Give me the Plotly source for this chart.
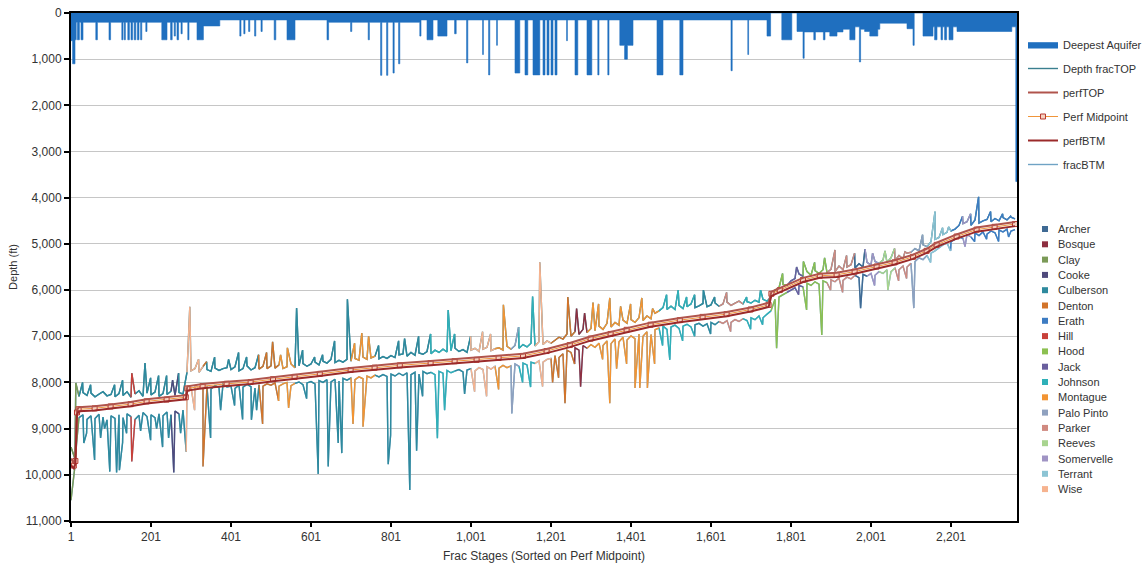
import plotly.graph_objects as go

# ---------------- data ----------------
frac_stage = list(range(1, 2362, 10))

frac_top = [
    9400, 9650, 8300, 8220, 8280, 8230, 8310, 8250, 8200, 8290,
    8260, 8310, 8240, 8280, 8200, 8320, 8250, 8180, 8300, 8230,
    8270, 8210, 8300, 8240, 8260, 8190, 8280, 8220, 8250, 7780,
    7750, 7700, 7780, 7650, 7720, 7760, 7690, 7740, 7700, 7680,
    7720, 7660, 7750, 7700, 7640, 7730, 7680, 7710, 7650, 7700,
    7640, 7690, 7620, 7700, 7660, 7600, 7680, 7640, 7590, 7650,
    7600, 7560, 7620, 7540, 7580, 7500, 7570, 7520, 7560, 7500,
    7540, 7480, 7520, 7450, 7500, 7470, 7430, 7490, 7440, 7480,
    7420, 7460, 7400, 7380, 7430, 7350, 7410, 7360, 7390, 7330,
    7380, 7300, 7350, 7280, 7340, 7310, 7260, 7330, 7290, 7350,
    7300, 7260, 7330, 7280, 7240, 7310, 7270, 7250, 7300, 7220,
    7280, 7200, 7260, 7180, 7230, 7150, 7210, 7120, 7180, 7100,
    7150, 7080, 7020, 7060, 6950, 7000, 6900, 6960, 6850, 6920,
    6830, 6880, 6780, 6850, 6720, 6800, 6700, 6760, 6650, 6720,
    6640, 6700, 6600, 6660, 6560, 6620, 6500, 6450, 6380, 6420,
    6350, 6420, 6330, 6400, 6360, 6300, 6380, 6340, 6290, 6360,
    6320, 6280, 6350, 6300, 6260, 6330, 6280, 6240, 6300, 6250,
    6280, 6220, 6260, 6200, 6240, 6150, 6000, 5950, 5880, 5900,
    5800, 5750, 5650, 5700, 5600, 5680, 5580, 5640, 5560, 5620,
    5550, 5600, 5480, 5560, 5500, 5450, 5520, 5430, 5500, 5400,
    5460, 5380, 5420, 5350, 5400, 5300, 5360, 5250, 5320, 5200,
    5180, 5100, 5150, 5020, 5060, 4950, 4900, 4860, 4800, 4750,
    4720, 4680, 4600, 4560, 4520, 4600, 4480, 4550, 4500, 4470,
    4520, 4450, 4500, 4430, 4480, 4420, 4460,
]

frac_btm = [
    10550, 9800, 8760, 8700, 8800, 8720, 8780, 8690, 8750, 8810,
    8720, 8780, 8700, 8760, 8680, 8740, 8800, 8710, 8650, 8740,
    8700, 8760, 8680, 8720, 8640, 8700, 8620, 8680, 8600, 8200,
    8100, 8060, 8120, 8050, 8090, 8140, 8070, 8110, 8040, 8100,
    8080, 8130, 8060, 8100, 8040, 8090, 8120, 8050, 8080, 8030,
    8060, 8010, 8080, 8030, 8000, 8070, 8020, 7990, 8050, 8010,
    7980, 8030, 7960, 8000, 7940, 7990, 7930, 7970, 7910, 7950,
    7900, 7940, 7880, 7920, 7860, 7900, 7840, 7880, 7830, 7870,
    7820, 7860, 7800, 7850, 7790, 7830, 7780, 7820, 7760, 7810,
    7780, 7830, 7760, 7800, 7740, 7790, 7750, 7720, 7770, 7730,
    7700, 7750, 7680, 7720, 7660, 7710, 7650, 7690, 7630, 7680,
    7640, 7600, 7650, 7580, 7620, 7560, 7590, 7530, 7560, 7500,
    7480, 7420, 7460, 7380, 7300, 7350, 7250, 7300, 7200, 7260,
    7180, 7240, 7150, 7200, 7100, 7160, 7060, 7120, 7020, 7080,
    6990, 7050, 6950, 7000, 6900, 6960, 6860, 6820, 6780, 6850,
    6800, 6760, 6830, 6780, 6740, 6800, 6750, 6720, 6780, 6730,
    6700, 6750, 6680, 6720, 6660, 6700, 6640, 6680, 6620, 6660,
    6600, 6640, 6560, 6600, 6520, 6450, 6200, 6150, 6100, 6050,
    6000, 5950, 5900, 5930, 5850, 5900, 5820, 5870, 5800, 5840,
    5780, 5820, 5740, 5790, 5720, 5760, 5680, 5730, 5660, 5700,
    5640, 5680, 5600, 5640, 5560, 5600, 5520, 5560, 5480, 5500,
    5420, 5380, 5300, 5340, 5250, 5200, 5150, 5080, 5020, 4980,
    4950, 4900, 4850, 4880, 4800, 4850, 4760, 4820, 4740, 4790,
    4720, 4760, 4700, 4740, 4680, 4720, 4690,
]

top_spike_stage = [13, 30, 50, 110, 130, 153, 186, 200, 220, 240, 255, 270, 298,
                   320, 340, 360, 395, 420, 440, 470, 490, 505, 525, 542, 565, 580,
                   610, 630, 660, 692, 710, 728, 745, 770, 820, 835, 870, 900, 944,
                   960, 1000, 1030, 1050, 1082, 1120, 1155, 1173, 1243, 1265, 1285,
                   1306, 1320, 1348, 1375, 1400, 1428, 1455, 1490, 1519, 1540, 1560,
                   1582, 1610, 1640, 1690, 1725, 1780, 1815, 1832, 1860, 1885, 1911,
                   1940, 1960, 1986, 2005, 2036, 2060, 2086, 2130, 2161, 2180, 2195,
                   2230, 2250, 2270, 2300, 2330, 2350]
top_spike_depth = [8010, 8000, 8050, 8050, 7950, 7800, 7580, 7900, 7850, 7850, 7950, 7800, 6360,
                   7500, 7550, 7450, 7500, 7350, 7450, 7400, 7350, 7120, 7400, 7250, 6390, 7300,
                   7450, 7400, 7100, 6200, 7150, 6930, 7000, 7200, 7100, 7050, 7000, 6950, 6430,
                   6950, 7000, 6900, 6950, 6320, 6800, 6140, 5400, 6150, 6400, 6500,
                   6270, 6300, 6170, 6350, 6300, 6170, 6400, 6100, 6000, 6150, 6100,
                   6000, 6150, 6050, 6150, 6000, 5640, 5500, 5380, 5400, 5300, 5130,
                   5250, 5200, 5110, 5200, 5150, 5100, 5170, 4800, 4300, 4650, 4630,
                   4400, 4350, 3980, 4300, 4350, 4400]

btm_spike_stage = [15, 33, 40, 60, 75, 85, 98, 115, 122, 130, 140, 153, 175, 200, 215,
                   230, 245, 258, 275, 289, 310, 331, 350, 375, 410, 430, 452, 465,
                   480, 520, 545, 590, 619, 644, 669, 678, 706, 731, 794, 800, 848,
                   865, 880, 917, 935, 985, 1010, 1040, 1070, 1103, 1130, 1150, 1180,
                   1205, 1220, 1236, 1260, 1275, 1330, 1348, 1365, 1390, 1411, 1423,
                   1442, 1460, 1480, 1498, 1530, 1560, 1600, 1650, 1700, 1730, 1765,
                   1820, 1840, 1878, 1900, 1930, 1975, 2010, 2043, 2070, 2090, 2108,
                   2150, 2200, 2236, 2260, 2290, 2320, 2345]
btm_spike_depth = [9310, 9310, 9100, 9680, 9200, 9000, 9930, 9950, 9900, 9300, 9100, 9710, 9050,
                   9250, 9000, 9400, 9200, 9950, 9100, 9500, 8600, 9820, 9200, 8600, 8500,
                   8800, 8810, 8600, 8900, 8400, 8550, 8350, 9980, 9820, 9310, 9530, 8900,
                   8960, 9770, 9140, 10330, 9480, 8300, 9210, 8600, 8250, 8200, 8300, 8150,
                   8670, 8000, 8100, 8090, 8000, 7900, 8450, 7600, 8090, 7500, 8450, 7700,
                   7600, 8120, 8120, 8120, 7600, 7200, 7510, 7100, 7000, 6950, 6900, 6850,
                   6750, 7260, 6100, 6430, 6970, 6000, 6050, 6390, 5900, 6000, 5800, 5750,
                   6390, 5400, 5150, 5060, 4950, 4900, 4950, 4850]

perf_stage = [1, 8, 12, 16, 20, 60, 100, 150, 190, 240, 288, 292, 330, 390, 450, 506,
              560, 623, 700, 760, 823, 900, 960, 1015, 1070, 1131, 1190, 1248, 1300,
              1350, 1390, 1450, 1523, 1580, 1640, 1700, 1745, 1752, 1773, 1831, 1873,
              1915, 1960, 2015, 2060, 2106, 2140, 2165, 2215, 2265, 2310, 2361]
perf_mid = [9720, 9800, 9700, 8650, 8580, 8560, 8520, 8470, 8410, 8370, 8320, 8130,
            8080, 8030, 7990, 7930, 7880, 7815, 7730, 7680, 7630, 7580, 7540, 7510,
            7470, 7425, 7320, 7190, 7050, 6950, 6860, 6750, 6650, 6580, 6520, 6420,
            6320, 6080, 6000, 5780, 5690, 5670, 5600, 5490, 5400, 5280, 5150, 5020,
            4840, 4690, 4630, 4570]
perf_top = [9650, 9740, 9640, 8600, 8535, 8515, 8475, 8425, 8365, 8325, 8275, 8085,
            8035, 7985, 7945, 7885, 7835, 7770, 7685, 7635, 7585, 7535, 7495, 7465,
            7425, 7380, 7275, 7145, 7005, 6905, 6815, 6705, 6605, 6535, 6475, 6375,
            6275, 6035, 5955, 5735, 5645, 5625, 5555, 5445, 5355, 5235, 5105, 4975,
            4795, 4645, 4585, 4525]
perf_btm = [9790, 9860, 9760, 8700, 8625, 8605, 8565, 8515, 8455, 8415, 8365, 8175,
            8125, 8075, 8035, 7975, 7925, 7860, 7775, 7725, 7675, 7625, 7585, 7555,
            7515, 7470, 7365, 7235, 7095, 6995, 6905, 6795, 6695, 6625, 6565, 6465,
            6365, 6125, 6045, 5825, 5735, 5715, 5645, 5535, 5445, 5325, 5195, 5065,
            4885, 4735, 4675, 4615]

aq_stage = [1, 5, 11, 14, 17, 22, 26, 31, 63, 67, 96, 100, 128, 131, 134, 137, 143, 147,
            151, 155, 159, 163, 167, 171, 175, 178, 188, 191, 228, 241, 250, 254, 259,
            262, 266, 270, 276, 279, 293, 296, 316, 332, 373, 423, 426, 433, 436, 445,
            448, 460, 463, 476, 479, 509, 513, 541, 561, 641, 645, 700, 703, 744, 747,
            775, 778, 790, 793, 806, 809, 820, 823, 873, 876, 891, 906, 918, 941, 960,
            964, 990, 993, 1030, 1032, 1045, 1048, 1065, 1067, 1111, 1123, 1136, 1143,
            1156, 1173, 1181, 1186, 1191, 1196, 1201, 1206, 1211, 1216, 1240, 1242,
            1261, 1268, 1291, 1303, 1318, 1321, 1343, 1346, 1373, 1385, 1392, 1406,
            1466, 1481, 1523, 1531, 1651, 1654, 1693, 1695, 1741, 1750, 1778, 1803,
            1816, 1831, 1834, 1858, 1862, 1882, 1886, 1898, 1916, 1931, 1948, 1961,
            1972, 1975, 1985, 1998, 2018, 2023, 2091, 2106, 2109, 2131, 2156, 2160,
            2166, 2176, 2180, 2185, 2190, 2196, 2206, 2216, 2353, 2363, 2366]
aq_depth = [600, 1100, 580, 200, 580, 200, 580, 200, 580, 200, 580, 200, 580, 200, 580,
            200, 580, 200, 580, 200, 580, 200, 580, 200, 580, 200, 400, 200, 580, 200,
            580, 200, 500, 200, 580, 200, 450, 200, 580, 200, 580, 280, 150, 500, 150,
            450, 150, 400, 150, 500, 150, 400, 150, 580, 150, 580, 150, 580, 200, 400,
            200, 580, 200, 1350, 200, 1350, 200, 1300, 200, 1100, 200, 500, 150, 580,
            150, 500, 150, 450, 150, 1080, 150, 900, 150, 1340, 150, 700, 150, 1300,
            150, 1340, 150, 1340, 150, 1340, 150, 1340, 150, 1340, 150, 1340, 150, 600,
            150, 1340, 150, 1340, 150, 1340, 150, 1340, 150, 700, 1000, 700, 150, 1340,
            150, 1340, 150, 1250, 150, 900, 150, 500, 0, 580, 0, 400, 980, 410, 580,
            410, 580, 410, 500, 410, 350, 580, 300, 1060, 350, 400, 500, 350, 220, 340,
            700, 0, 500, 300, 580, 300, 580, 300, 580, 300, 580, 300, 400, 300, 3650,
            3650]

county_names = ["Archer", "Bosque", "Clay", "Cooke", "Culberson", "Denton", "Erath",
                "Hill", "Hood", "Jack", "Johnson", "Montague", "Palo Pinto", "Parker",
                "Reeves", "Somervelle", "Terrant", "Wise"]
county_colors = ["#3f6a94", "#8e2f40", "#7b9a57", "#4f4a7c", "#2e8a9e", "#d2742a",
                 "#3d7cc2", "#c8403a", "#8cc051", "#6a5f9e", "#2fb0b8", "#f29433",
                 "#8fa1bf", "#d08a80", "#a8d48f", "#a094c4", "#8cc4d4", "#f6b38f"]

seg_start = [1, 21, 145, 160, 250, 265, 288, 325, 340, 470, 520, 560, 700, 760, 900,
             960, 1000, 1060, 1100, 1120, 1160, 1200, 1260, 1290, 1470, 1560, 1620,
             1680, 1748, 1790, 1830, 1890, 1960, 1985, 2020, 2060, 2100, 2140, 2200,
             2230, 2250]
seg_end = seg_start[1:] + [2362]
seg_county = ["Clay", "Culberson", "Hill", "Culberson", "Cooke", "Culberson", "Wise",
              "Denton", "Culberson", "Denton", "Montague", "Culberson", "Montague",
              "Culberson", "Johnson", "Culberson", "Wise", "Montague", "Palo Pinto",
              "Johnson", "Wise", "Denton", "Bosque", "Montague", "Johnson", "Culberson",
              "Parker", "Johnson", "Hood", "Jack", "Hood", "Parker", "Archer",
              "Somervelle", "Reeves", "Parker", "Palo Pinto", "Terrant", "Erath",
              "Somervelle", "Erath"]

# ---------------- build ----------------
def merge(base_x, base_y, sx, sy):
    pts = sorted(list(zip(base_x, base_y)) + list(zip(sx, sy)))
    return [p[0] for p in pts], [p[1] for p in pts]

top_x, top_y = merge(frac_stage, frac_top, top_spike_stage, top_spike_depth)
btm_x, btm_y = merge(frac_stage, frac_btm, btm_spike_stage, btm_spike_depth)

FONT = "Liberation Sans, Arial, sans-serif"
fig = go.Figure()

fig.add_trace(go.Scatter(
    x=aq_stage, y=aq_depth, mode="lines", line=dict(shape="hv", width=0.6, color="#1f6fbf"),
    fill="tozeroy", fillcolor="#1f6fbf", name="Deepest Aquifer",
    legendgroup="g1", legendrank=1, hoverinfo="skip"))

fig.add_trace(go.Scatter(x=top_x, y=top_y, mode="lines", name="Depth fracTOP",
                         line=dict(color="#3a7f8f", width=1.4), legendgroup="g2", legendrank=2))
fig.add_trace(go.Scatter(x=btm_x, y=btm_y, mode="lines", name="fracBTM",
                         line=dict(color="#6fa3c4", width=1.4), legendgroup="g6", legendrank=6))

def county_xy(xs, ys, county):
    ox, oy = [], []
    for s0, s1, c in zip(seg_start, seg_end, seg_county):
        if c != county:
            continue
        idx = [i for i, s in enumerate(xs) if s0 <= s < s1]
        nxt = [i for i, s in enumerate(xs) if s >= s1]
        if nxt:
            idx.append(nxt[0])
        if not idx:
            continue
        ox += [xs[i] for i in idx] + [None]
        oy += [ys[i] for i in idx] + [None]
    return ox, oy

for name, col in zip(county_names, county_colors):
    for xs, ys in ((top_x, top_y), (btm_x, btm_y)):
        cx, cy = county_xy(xs, ys, name)
        fig.add_trace(go.Scatter(x=cx, y=cy, mode="lines", name=name, showlegend=False,
                                 line=dict(color=col, width=1.4), connectgaps=False))

fig.add_trace(go.Scatter(x=perf_stage, y=perf_mid, mode="lines+markers", name="Perf Midpoint",
                         line=dict(color="#f0953a", width=1),
                         marker=dict(symbol="square", size=5, color="#f6d2c0",
                                     line=dict(color="#b83a30", width=1)),
                         legendgroup="g4", legendrank=4))
fig.add_trace(go.Scatter(x=perf_stage, y=perf_top, mode="lines", name="perfTOP",
                         line=dict(color="#b0544c", width=2), legendgroup="g3", legendrank=3))
fig.add_trace(go.Scatter(x=perf_stage, y=perf_btm, mode="lines", name="perfBTM",
                         line=dict(color="#9b2a2a", width=2), legendgroup="g5", legendrank=5))

# ---------------- layout ----------------
W, H = 1148, 568
L, R, T, B = 71, 1017, 13, 521
def px_x(p):
    return (p - L) / (R - L)
def px_y(p):
    return (B - p) / (B - T)

shapes, annos = [], []
for i, (name, col) in enumerate(zip(county_names, county_colors)):
    yc = 229 + i * 15.3
    shapes.append(dict(type="rect", xref="paper", yref="paper",
                       x0=px_x(1042), x1=px_x(1048), y0=px_y(yc + 3), y1=px_y(yc - 3),
                       fillcolor=col, line=dict(width=0)))
    annos.append(dict(xref="paper", yref="paper", x=px_x(1056), y=px_y(yc), text=name,
                      showarrow=False, xanchor="left", yanchor="middle",
                      font=dict(family=FONT, size=11, color="#333")))

xticks = [1, 201, 401, 601, 801, 1001, 1201, 1401, 1601, 1801, 2001, 2201]
fig.update_layout(
    width=W, height=H,
    margin=dict(l=L, r=W - R, t=T, b=H - B, autoexpand=False),
    paper_bgcolor="white", plot_bgcolor="white",
    font=dict(family=FONT, size=12, color="#333"),
    showlegend=True,
    legend=dict(x=px_x(1023), y=px_y(30), xanchor="left", yanchor="top",
                tracegroupgap=5, font=dict(family=FONT, size=11, color="#333"),
                bgcolor="rgba(0,0,0,0)", itemwidth=30),
    shapes=shapes, annotations=annos,
    xaxis=dict(range=[1, 2366], tickmode="array", tickvals=xticks, automargin=False,
               ticktext=[f"{v:,}" for v in xticks], showgrid=False, zeroline=False,
               showline=True, linecolor="black", linewidth=2, mirror=True,
               ticks="outside", ticklen=4, tickwidth=2, tickcolor="black",
               title=dict(text="Frac Stages (Sorted on Perf Midpoint)", font=dict(size=12),
                          standoff=8),
               tickfont=dict(size=12, color="#333")),
    yaxis=dict(range=[11000, 0], dtick=1000, tickformat=",", showgrid=True, automargin=False,
               gridcolor="#c6c6c6", gridwidth=1, zeroline=False, ticklabeloverflow="allow",
               showline=True, linecolor="black", linewidth=2, mirror=True,
               ticks="outside", ticklen=5, tickwidth=2, tickcolor="black",
               title=dict(text="Depth (ft)", font=dict(size=11), standoff=5),
               tickfont=dict(size=12, color="#333")),
)

# remove the browser's default 8px body margin so the figure fills the window exactly
fig.write_html("out.html", config={"displayModeBar": False},
               post_script="document.body.style.margin='0';document.body.style.overflow='hidden';")
